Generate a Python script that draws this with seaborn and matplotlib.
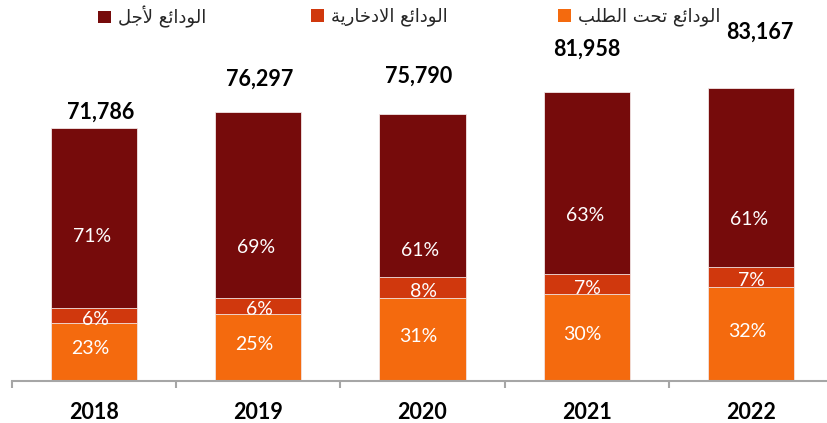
import numpy as np
import pandas as pd
import matplotlib
matplotlib.use("Agg")
import matplotlib.pyplot as plt
import matplotlib.patches as mpatches
import seaborn as sns

# ---------------- data ----------------
years = ["2018", "2019", "2020", "2021", "2022"]
totals = [71786, 76297, 75790, 81958, 83167]
pct_demand = [23, 25, 31, 30, 32]      # الودائع تحت الطلب
pct_savings = [6, 6, 8, 7, 7]          # الودائع الادخارية
pct_time = [71, 69, 61, 63, 61]        # الودائع لأجل
series_names = ["الودائع تحت الطلب", "الودائع الادخارية", "الودائع لأجل"]

# ---------------- style ----------------
colors = ["#F46A0E", "#D0380D", "#760B0B"]
total_dx = [7, 1, -4, 0, 9]          # label nudges (pixels)
total_dy = [16, 33, 38, 43, 56]
time_dy = [-19, -43, -55, -32, -42]

# ---------------- minimal Arabic shaping (presentation forms) ----------------
FORMS = {  # iso, fin, ini, med
    "\u0627": ("\uFE8D", "\uFE8E", None, None),
    "\u0623": ("\uFE83", "\uFE84", None, None),
    "\u0628": ("\uFE8F", "\uFE90", "\uFE91", "\uFE92"),
    "\u0629": ("\uFE93", "\uFE94", None, None),
    "\u062A": ("\uFE95", "\uFE96", "\uFE97", "\uFE98"),
    "\u062C": ("\uFE9D", "\uFE9E", "\uFE9F", "\uFEA0"),
    "\u062D": ("\uFEA1", "\uFEA2", "\uFEA3", "\uFEA4"),
    "\u062E": ("\uFEA5", "\uFEA6", "\uFEA7", "\uFEA8"),
    "\u062F": ("\uFEA9", "\uFEAA", None, None),
    "\u0631": ("\uFEAD", "\uFEAE", None, None),
    "\u0637": ("\uFEC1", "\uFEC2", "\uFEC3", "\uFEC4"),
    "\u0639": ("\uFEC9", "\uFECA", "\uFECB", "\uFECC"),
    "\u0644": ("\uFEDD", "\uFEDE", "\uFEDF", "\uFEE0"),
    "\u0648": ("\uFEED", "\uFEEE", None, None),
    "\u064A": ("\uFEF1", "\uFEF2", "\uFEF3", "\uFEF4"),
    "\u0626": ("\uFE89", "\uFE8A", "\uFE8B", "\uFE8C"),
}
LAMALEF = {"\u0627": ("\uFEFB", "\uFEFC"), "\u0623": ("\uFEF7", "\uFEF8")}


def dual(c):
    return c in FORMS and FORMS[c][2] is not None


def joins(c):
    return c in FORMS


def shape(text):
    out = []
    i = 0
    n = len(text)
    while i < n:
        c = text[i]
        prev = text[i - 1] if i > 0 else None
        jp = prev is not None and dual(prev) and joins(c)
        if c == "\u0644" and i + 1 < n and text[i + 1] in LAMALEF:
            iso, fin = LAMALEF[text[i + 1]]
            out.append(fin if jp else iso)
            i += 2
            continue
        if c not in FORMS:
            out.append(c)
            i += 1
            continue
        nxt = text[i + 1] if i + 1 < n else None
        jn = dual(c) and nxt is not None and joins(nxt)
        iso, fin, ini, med = FORMS[c]
        if jp and jn:
            out.append(med)
        elif jp:
            out.append(fin)
        elif jn:
            out.append(ini)
        else:
            out.append(iso)
        i += 1
    return "".join(reversed(out))


# ---------------- build frame ----------------
totals_a = np.array(totals, dtype=float)
d = np.array(pct_demand, dtype=float)
s = np.array(pct_savings, dtype=float)
t = np.array(pct_time, dtype=float)
df = pd.DataFrame({
    "year": years,
    "top": totals_a,
    "mid": totals_a * (d + s) / 100.0,
    "low": totals_a * d / 100.0,
})

sns.set_theme(style="white")
plt.rcParams["font.family"] = ["Lato", "DejaVu Sans"]

fig = plt.figure(figsize=(8.28, 4.23), dpi=100)
ax = fig.add_axes([12 / 828, 42 / 423, 821 / 828, 381 / 423])

bw = 0.524
for col, c in zip(["top", "mid", "low"], colors[::-1]):
    sns.barplot(data=df, x="year", y=col, color=c, width=bw, saturation=1,
                edgecolor="#F2E6E6", linewidth=0.6, ax=ax, order=years)

ax.set_xlim(-0.5, 4.5)
ax.set_ylim(0, 83167 * 381 / 293)
ax.set_xlabel("")
ax.set_ylabel("")
ax.set_yticks([])
for sp in ["left", "right", "top"]:
    ax.spines[sp].set_visible(False)
ax.spines["bottom"].set_color("#A6A6A6")
ax.spines["bottom"].set_linewidth(1.5)
ax.set_xticks(range(len(years)))
ax.set_xticklabels(years, fontsize=15.5, fontweight="bold", color="black")
ax.set_xticks(np.arange(-0.5, len(years), 1.0), minor=True)
ax.tick_params(axis="x", which="major", length=0, pad=15)
ax.tick_params(axis="x", which="minor", length=5, width=1.5, color="#A6A6A6",
               direction="out", bottom=True)

# totals
for i, tot in enumerate(totals):
    ax.annotate(f"{tot:,}", xy=(i, tot), xytext=(total_dx[i], total_dy[i]),
                textcoords="offset pixels", ha="center", va="center",
                fontsize=15.5, fontweight="bold", color="black")

# percentage labels
for i in range(len(years)):
    low = df["low"][i]
    mid = df["mid"][i]
    top = df["top"][i]
    ax.annotate(f"{pct_demand[i]}%", xy=(i, low / 2), xytext=(-4, 3),
                textcoords="offset pixels", ha="center", va="center",
                fontsize=14, color="white")
    ax.annotate(f"{pct_savings[i]}%", xy=(i, (low + mid) / 2), xytext=(1, -4),
                textcoords="offset pixels", ha="center", va="center",
                fontsize=14, color="white")
    ax.annotate(f"{pct_time[i]}%", xy=(i, (mid + top) / 2), xytext=(-2, time_dy[i]),
                textcoords="offset pixels", ha="center", va="center",
                fontsize=14, color="white")

# legend: three items, right-to-left
leg_x = [558, 311, 98]
for name, c, x in zip(series_names, colors, leg_x):
    h = mpatches.Patch(facecolor=c, edgecolor="none")
    fig.legend(handles=[h], labels=[shape(name)], loc="center left",
               bbox_to_anchor=(x / 828, 1 - 17 / 423), frameon=False,
               handlelength=0.7, handleheight=0.7, handletextpad=0.4,
               borderpad=0, borderaxespad=0,
               prop={"family": "DejaVu Sans", "size": 13})

fig.savefig("out.png", dpi=100)
